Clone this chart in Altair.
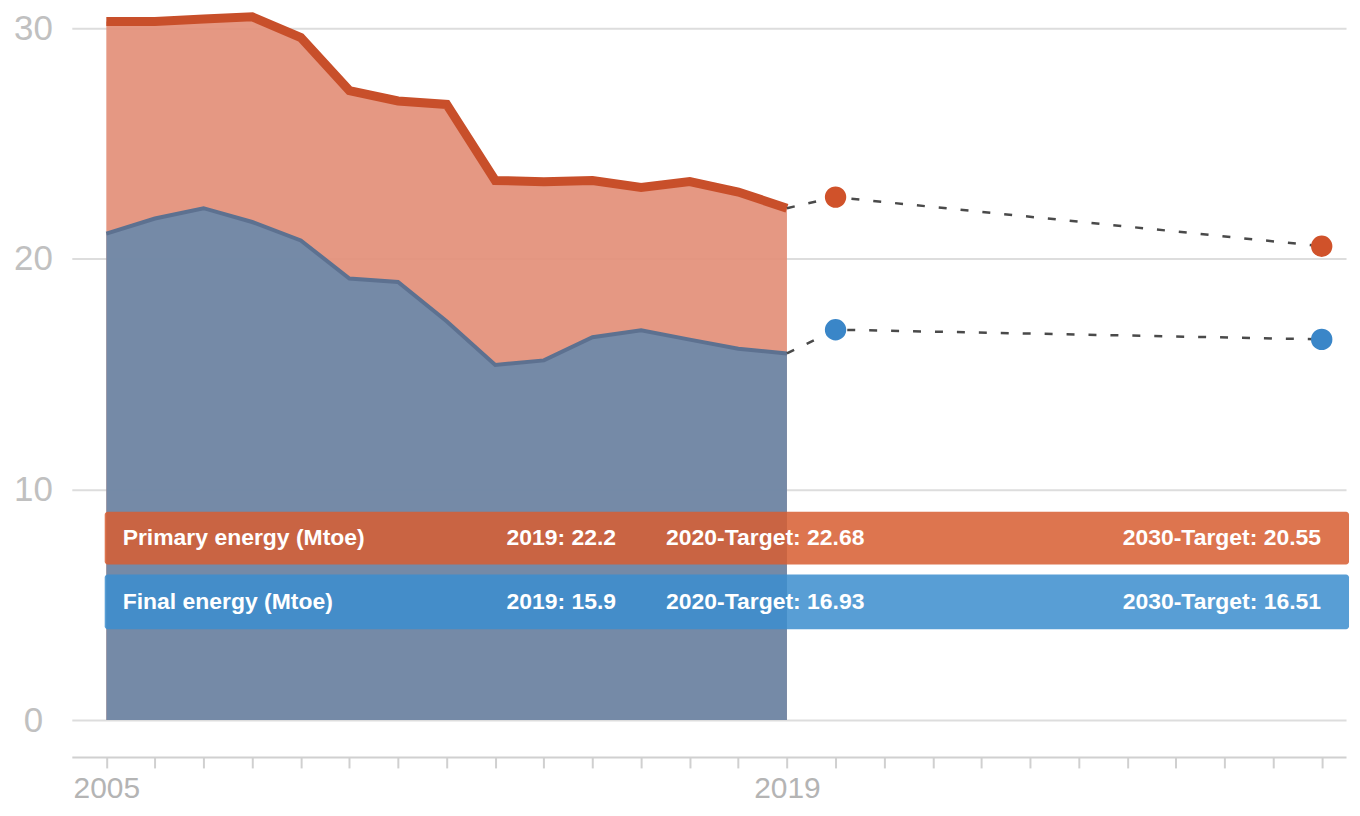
import altair as alt
import pandas as pd

# ---------------- data ----------------
years = list(range(2005, 2020))
primary = [30.3, 30.3, 30.4, 30.5, 29.6, 27.3, 26.85, 26.7, 23.4, 23.35, 23.4, 23.1, 23.35, 22.9, 22.2]
final = [21.1, 21.75, 22.2, 21.6, 20.8, 19.15, 19.0, 17.3, 15.4, 15.6, 16.6, 16.9, 16.5, 16.1, 15.9]
target_years = [2020, 2030]
primary_targets = [22.68, 20.55]
final_targets = [16.93, 16.51]
series_names = ["Primary energy (Mtoe)", "Final energy (Mtoe)"]
y_ticks = [0, 10, 20, 30]
x_ticks = list(range(2005, 2031))
x_labelled = [2005, 2019]

# ---------------- styling ----------------
FONT = "Liberation Sans"
AREA_P, LINE_P, DOT_P, BAR_P = "#e3907a", "#c84f2a", "#d0522a", "#d75e32"
AREA_F, LINE_F, DOT_F, BAR_F = "#7189a8", "#5d7190", "#3a86c8", "#3d8ece"

hist = pd.DataFrame({"year": years, "primary": primary, "final": final})

proj_rows = []
for name, last, tg in [(series_names[0], primary[-1], primary_targets),
                       (series_names[1], final[-1], final_targets)]:
    proj_rows.append({"series": name, "year": years[-1], "value": last})
    for ty, tv in zip(target_years, tg):
        proj_rows.append({"series": name, "year": ty, "value": tv})
proj = pd.DataFrame(proj_rows)
targets = proj[proj["year"] != years[-1]]

xs = alt.Scale(domain=[2004.29, 2030.5], nice=False, zero=False)
ys = alt.Scale(domain=[-1.6, 30.83], nice=False, zero=False)

label_expr = " || ".join(f"datum.value == {v}" for v in x_labelled)
x_axis = alt.Axis(values=x_ticks, labelExpr=f"({label_expr}) ? datum.value : ''",
                  tickSize=11, tickColor="#d0d0d0", tickWidth=2,
                  domainColor="#d0d0d0", domainWidth=2, grid=False, title=None,
                  labelFontSize=30, labelColor="#b4b4b4", labelFont=FONT,
                  labelPadding=6, labelFlush=False, labelOverlap=False)
y_axis = alt.Axis(values=y_ticks, grid=True, gridColor="#dddddd", gridWidth=2,
                  domain=False, ticks=False, tickSize=0, labelFontSize=35,
                  labelColor="#c0c0c0", labelFont=FONT, labelAlign="center",
                  labelBaseline="middle", labelPadding=39, title=None)


def X(field):
    return alt.X(field, scale=xs, axis=x_axis)


def Y(field):
    return alt.Y(field, scale=ys, axis=y_axis)


base = alt.Chart(hist)

area_p = base.mark_area(color=AREA_P, opacity=0.93).encode(
    x=X("year:Q"), y=Y("primary:Q"), y2=alt.datum(0))
area_f = base.mark_area(color=AREA_F, opacity=0.97).encode(
    x=X("year:Q"), y=Y("final:Q"), y2=alt.datum(0))
line_p = base.mark_line(color=LINE_P, strokeWidth=9, strokeCap="butt").encode(
    x=X("year:Q"), y=Y("primary:Q"))
line_f = base.mark_line(color=LINE_F, strokeWidth=4, strokeCap="butt").encode(
    x=X("year:Q"), y=Y("final:Q"))

dashed = alt.Chart(proj).mark_line(color="#4a4a4a", strokeWidth=2.5, strokeDash=[8, 14]).encode(
    x=X("year:Q"), y=Y("value:Q"), detail="series:N")

dots = alt.Chart(targets).mark_point(filled=True, size=460, opacity=1).encode(
    x=X("year:Q"), y=Y("value:Q"),
    color=alt.Color("series:N", scale=alt.Scale(domain=series_names, range=[DOT_P, DOT_F]),
                    legend=None))

# ---------------- legend bars ----------------
layers = [area_p, area_f, line_p, line_f, dashed, dots]
bar_specs = [
    (series_names[0], primary[-1], primary_targets, BAR_P, 504, 557),
    (series_names[1], final[-1], final_targets, BAR_F, 567, 622),
]
for name, last, tg, col, y0, y1 in bar_specs:
    info = pd.DataFrame([{
        "name": name,
        "now": f"{years[-1]}: {last}",
        "t1": f"{target_years[0]}-Target: {tg[0]}",
        "t2": f"{target_years[1]}-Target: {tg[1]}",
    }])
    ic = alt.Chart(info)
    layers.append(ic.mark_rect(color=col, opacity=0.86, cornerRadius=3).encode(
        x=alt.value(33), x2=alt.value(1281), y=alt.value(y0), y2=alt.value(y1)))
    ymid = (y0 + y1) / 2
    txt = dict(color="white", font=FONT, fontSize=23, fontWeight="bold", baseline="middle")
    layers.append(ic.mark_text(align="left", **txt).encode(
        x=alt.value(51), y=alt.value(ymid), text="name:N"))
    layers.append(ic.mark_text(align="left", **txt).encode(
        x=alt.value(436), y=alt.value(ymid), text="now:N"))
    layers.append(ic.mark_text(align="left", **txt).encode(
        x=alt.value(596), y=alt.value(ymid), text="t1:N"))
    layers.append(ic.mark_text(align="right", **txt).encode(
        x=alt.value(1253), y=alt.value(ymid), text="t2:N"))

chart = alt.layer(*layers).properties(
    width=1278, height=750,
    padding={"left": 64, "top": 0, "right": 6, "bottom": 50},
    autosize=alt.AutoSizeParams(type="none"),
    background="white",
).configure_view(stroke=None)

chart.save("out.html", embed_options={"renderer": "svg", "actions": False})
